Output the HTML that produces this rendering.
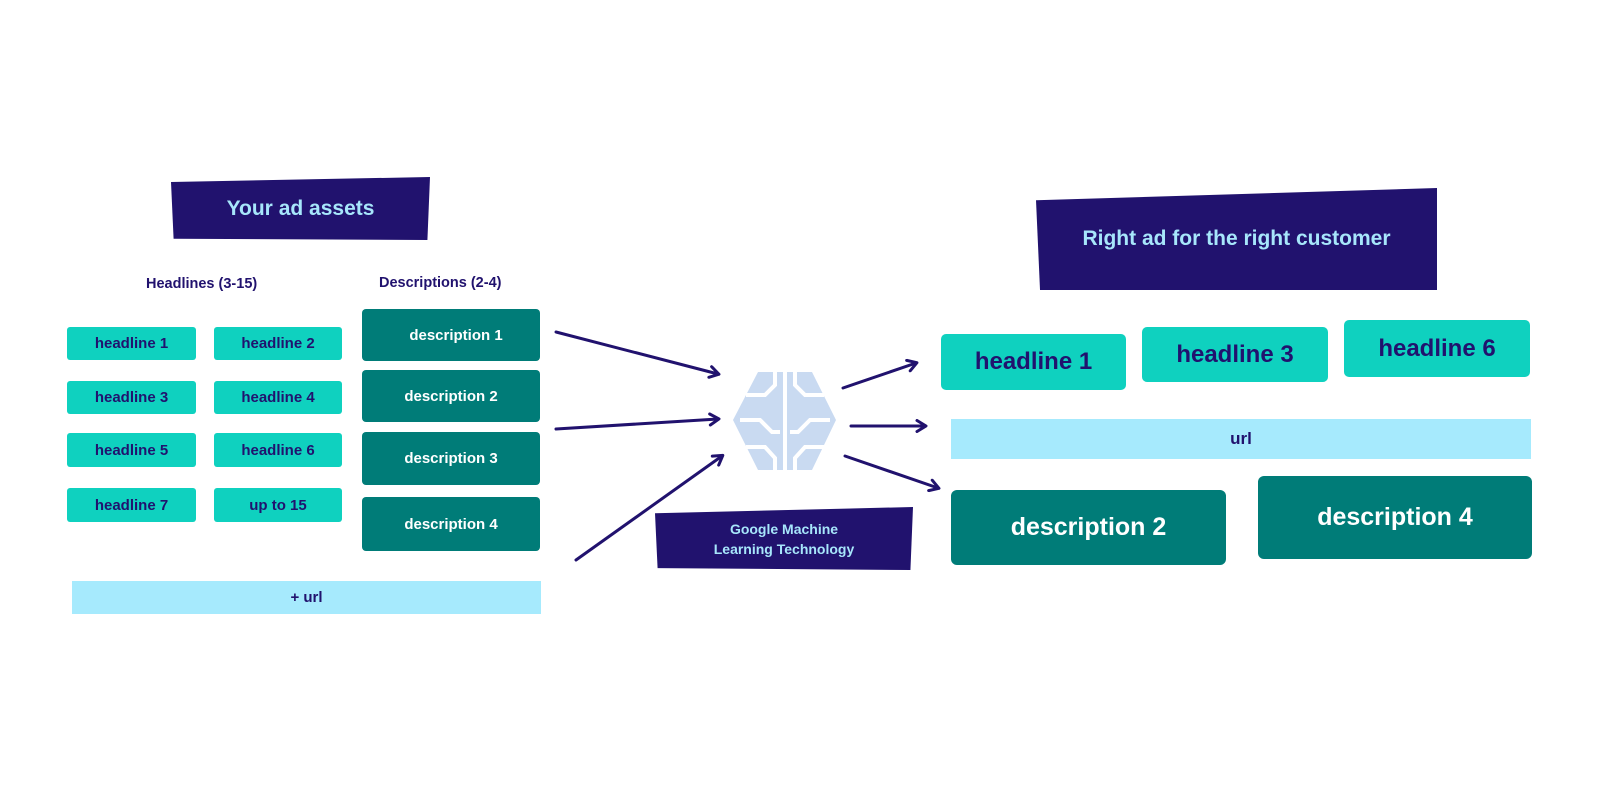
<!DOCTYPE html>
<html><head><meta charset="utf-8"><style>
body{margin:0;width:1600px;height:800px;background:#fff;position:relative;overflow:hidden;font-family:"Liberation Sans",sans-serif;font-weight:bold}
.b{position:absolute;display:flex;align-items:center;justify-content:center;box-sizing:border-box;white-space:nowrap}
.n{background:#21126e;color:#a7e6fb}
.h{background:#0fd1bf;color:#21126e;font-size:15px;border-radius:3px}
.d{background:#007c78;color:#fff;font-size:15px;border-radius:4px}
.u{background:#a6eafd;color:#21126e}
.l{position:absolute;color:#21126e;font-size:14.5px}
</style></head><body>
<div class="b n" style="left:171px;top:177px;width:259px;height:63px;font-size:21px;clip-path:polygon(0 8%,100% 0,99% 100%,1% 98%)">Your ad assets</div>
<div class="l" style="left:146px;top:276px">Headlines (3-15)</div>
<div class="l" style="left:379px;top:275px">Descriptions (2-4)</div>

<div class="b h" style="left:67px;top:327px;width:129px;height:33px">headline 1</div>
<div class="b h" style="left:214px;top:327px;width:128px;height:33px">headline 2</div>
<div class="b h" style="left:67px;top:381px;width:129px;height:33px">headline 3</div>
<div class="b h" style="left:214px;top:381px;width:128px;height:33px">headline 4</div>
<div class="b h" style="left:67px;top:433px;width:129px;height:34px">headline 5</div>
<div class="b h" style="left:214px;top:433px;width:128px;height:34px">headline 6</div>
<div class="b h" style="left:67px;top:488px;width:129px;height:34px">headline 7</div>
<div class="b h" style="left:214px;top:488px;width:128px;height:34px">up to 15</div>

<div class="b d" style="left:362px;top:309px;width:178px;height:52px;padding-left:10px">description 1</div>
<div class="b d" style="left:362px;top:370px;width:178px;height:52px">description 2</div>
<div class="b d" style="left:362px;top:432px;width:178px;height:53px">description 3</div>
<div class="b d" style="left:362px;top:497px;width:178px;height:54px">description 4</div>

<div class="b u" style="left:72px;top:581px;width:469px;height:33px;font-size:15px">+ url</div>

<div class="b n" style="left:655px;top:507px;width:258px;height:63px;font-size:14px;line-height:20px;white-space:normal;text-align:center;clip-path:polygon(0 10%,100% 0,99% 100%,1% 97%)">Google Machine<br>Learning Technology</div>

<div class="b n" style="left:1036px;top:188px;width:401px;height:102px;font-size:21px;clip-path:polygon(0 12%,100% 0,100% 100%,1% 100%)">Right ad for the right customer</div>

<div class="b h" style="left:941px;top:334px;width:185px;height:56px;font-size:24px;border-radius:5px">headline 1</div>
<div class="b h" style="left:1142px;top:327px;width:186px;height:55px;font-size:24px;border-radius:5px">headline 3</div>
<div class="b h" style="left:1344px;top:320px;width:186px;height:57px;font-size:24px;border-radius:5px">headline 6</div>
<div class="b u" style="left:951px;top:419px;width:580px;height:40px;font-size:17px">url</div>
<div class="b d" style="left:951px;top:490px;width:275px;height:75px;font-size:25px;border-radius:6px">description 2</div>
<div class="b d" style="left:1258px;top:476px;width:274px;height:83px;font-size:25px;border-radius:6px">description 4</div>

<svg style="position:absolute;left:0;top:0" width="1600" height="800">
<defs><marker id="a" markerWidth="14" markerHeight="14" refX="10" refY="7" orient="auto" markerUnits="userSpaceOnUse"><path d="M2,1.5 L11,7 L2,12.5" fill="none" stroke="#21126e" stroke-width="3" stroke-linecap="round" stroke-linejoin="round"/></marker></defs>
<g stroke="#21126e" stroke-width="3" fill="none" marker-end="url(#a)" stroke-linecap="round">
<line x1="556" y1="332" x2="718" y2="374"/>
<line x1="556" y1="429" x2="718" y2="419"/>
<line x1="576" y1="560" x2="722" y2="456"/>
<line x1="843" y1="388" x2="916" y2="363"/>
<line x1="851" y1="426" x2="925" y2="426"/>
<line x1="845" y1="456" x2="938" y2="488"/>
</g>
<g fill="#c9daf1">
<polygon points="758,372 812,372 836,420 812,470 758,470 733,420"/>
</g>
<g stroke="#fff" stroke-width="4" fill="none">
<line x1="785" y1="370" x2="785" y2="472"/>
<polyline points="746,395 765,395 775,385 775,372"/>
<polyline points="824,395 805,395 795,385 795,372"/>
<polyline points="740,420 760,420 772,432 780,432"/>
<polyline points="830,420 810,420 798,432 790,432"/>
<polyline points="746,447 765,447 775,458 775,470"/>
<polyline points="824,447 805,447 795,458 795,470"/>
</g>
</svg>
</body></html>
